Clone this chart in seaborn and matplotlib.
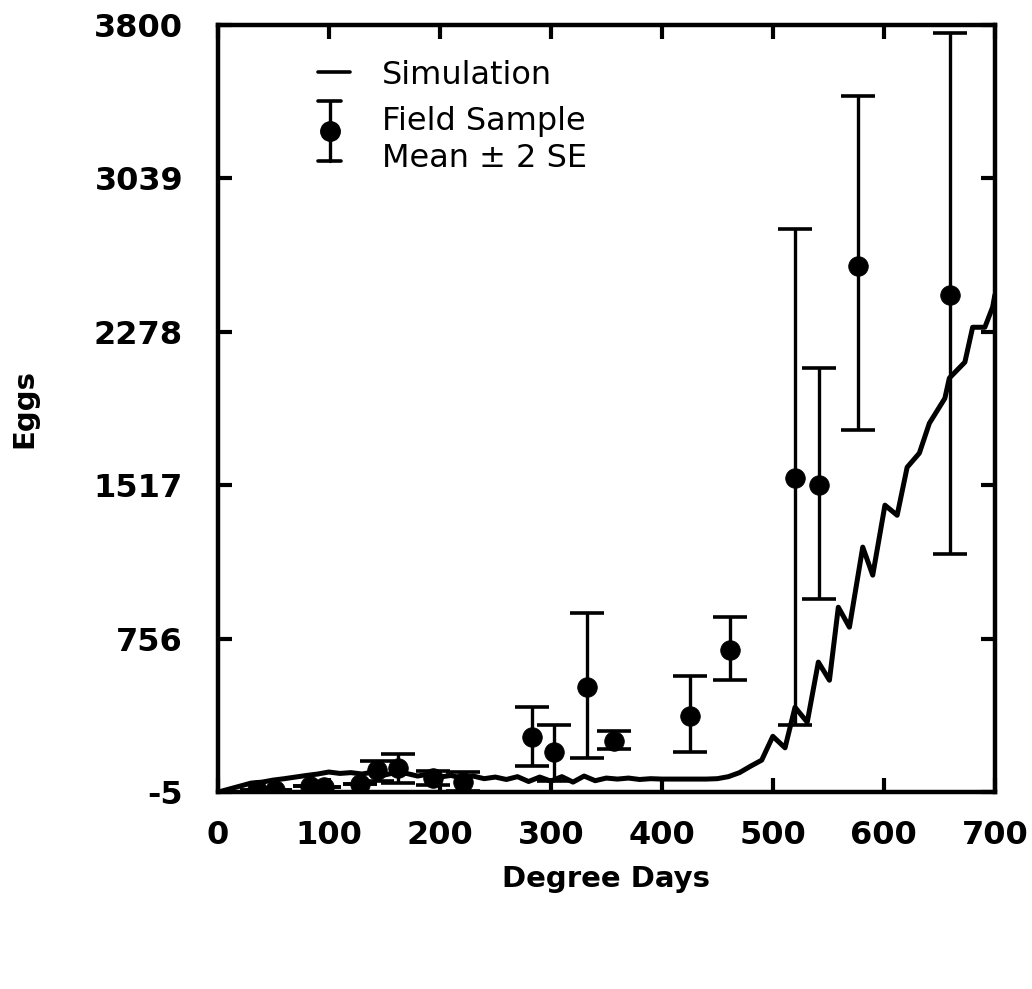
import numpy as np
import pandas as pd
import matplotlib
matplotlib.use("Agg")
import matplotlib.pyplot as plt
import seaborn as sns

# ---- data ----
sim_dd = [0, 10, 20, 30, 40, 50, 60, 70, 80, 90, 100, 110, 120, 130, 140, 150, 160, 170,
          180, 190, 200, 210, 220, 230, 240, 250, 260, 270, 280, 290, 300, 310, 320, 330,
          340, 350, 360, 370, 380, 390, 400, 410, 420, 430, 440, 450, 460, 470, 480, 490,
          500, 511, 520, 531, 541, 551, 559, 569, 581, 590, 601, 612, 621, 632, 641, 655,
          659, 673, 680, 691, 698, 700]
sim_eggs = [-5, 10, 25, 40, 45, 55, 62, 70, 78, 85, 95, 88, 92, 85, 95, 80, 92, 88,
            75, 85, 70, 78, 65, 75, 62, 70, 58, 72, 48, 70, 50, 72, 45, 75,
            52, 65, 60, 65, 58, 62, 60, 60, 60, 60, 60, 62, 72, 92, 124, 154,
            272, 215, 416, 342, 640, 550, 912, 813, 1210, 1071, 1418, 1368, 1606, 1676, 1824, 1948,
            2048, 2127, 2300, 2300, 2400, 2460]

field_dd = [35, 52, 83, 96, 128, 143, 162, 194, 221, 283, 303, 333, 357, 425, 461, 520, 542, 577, 660]
field_mean = [5, 8, 25, 20, 35, 104, 114, 64, 45, 268, 193, 516, 248, 372, 699, 1552, 1517, 2605, 2461]
field_low = [5, 8, 25, 20, 35, 50, 40, 30, 0, 124, 50, 164, 208, 193, 550, 327, 952, 1790, 1175]
field_high = [5, 8, 25, 20, 35, 149, 183, 99, 94, 416, 327, 882, 297, 570, 863, 2788, 2097, 3446, 3758]

x_ticks = [0, 100, 200, 300, 400, 500, 600, 700]
y_ticks = [-5, 756, 1517, 2278, 3039, 3800]

sim = pd.DataFrame({"dd": sim_dd, "eggs": sim_eggs})
field = pd.DataFrame({"dd": field_dd, "mean": field_mean, "low": field_low, "high": field_high})

sns.set_theme(style="ticks")
plt.rcParams["font.family"] = ["DejaVu Sans"]
plt.rcParams["text.color"] = "black"
plt.rcParams["axes.labelcolor"] = "black"

fig = plt.figure(figsize=(10.32, 9.89), dpi=100)
ax = fig.add_axes([0.211, 0.199, 0.753, 0.776])

sns.lineplot(data=sim, x="dd", y="eggs", ax=ax, color="black", lw=3.6,
             estimator=None, sort=False, legend=False)

yerr = np.vstack([field["mean"] - field["low"], field["high"] - field["mean"]])
ax.errorbar(field["dd"], field["mean"], yerr=yerr, fmt="none", ecolor="black",
            elinewidth=2.4, capsize=12, capthick=2.6, zorder=3)
sns.scatterplot(data=field, x="dd", y="mean", ax=ax, color="black", s=200,
                edgecolor="black", linewidth=0.5, zorder=4, legend=False)

ax.set_xlim(0, 700)
ax.set_ylim(-5, 3800)
ax.set_xticks(x_ticks)
ax.set_yticks(y_ticks)
ax.set_xticklabels([str(v) for v in x_ticks], fontsize=23, fontweight="bold")
ax.set_yticklabels([str(v) for v in y_ticks], fontsize=23, fontweight="bold")
ax.tick_params(direction="in", length=10, width=3, top=True, right=True, colors="black")
ax.tick_params(axis="y", pad=25)
ax.tick_params(axis="x", pad=20)
for s in ax.spines.values():
    s.set_linewidth(3.2)
    s.set_color("black")
    s.set_visible(True)

ax.set_xlabel("Degree Days", fontsize=21, fontweight="bold", labelpad=10, color="black")
ax.set_ylabel("Eggs", fontsize=21, fontweight="bold", labelpad=40, color="black")

# legend drawn manually in axes coordinates
tr = ax.transAxes
ax.plot([0.129, 0.170], [0.938, 0.938], color="black", lw=2.6, transform=tr)
ax.plot([0.144, 0.144], [0.823, 0.900], color="black", lw=2.4, transform=tr)
ax.plot([0.129, 0.159], [0.900, 0.900], color="black", lw=2.6, transform=tr)
ax.plot([0.129, 0.159], [0.823, 0.823], color="black", lw=2.6, transform=tr)
ax.plot([0.144], [0.862], marker="o", ms=14, color="black", transform=tr)
ax.text(0.211, 0.934, "Simulation", fontsize=23, transform=tr, va="center", ha="left", color="black")
ax.text(0.211, 0.874, "Field Sample", fontsize=23, transform=tr, va="center", ha="left", color="black")
ax.text(0.211, 0.826, "Mean \u00b1 2 SE", fontsize=23, transform=tr, va="center", ha="left", color="black")

fig.savefig("out.png", dpi=100)
